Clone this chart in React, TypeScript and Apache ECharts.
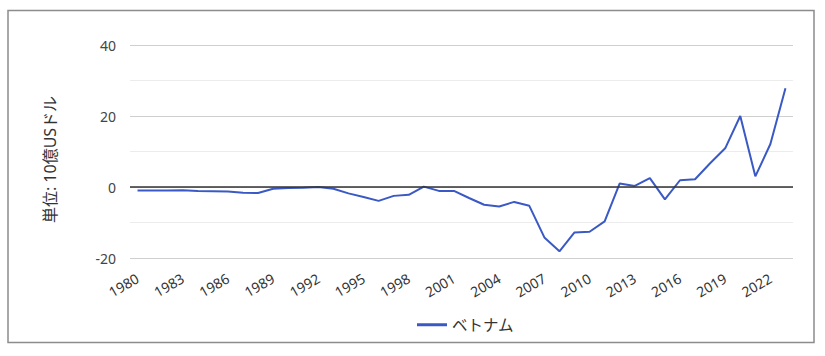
import React, { useEffect, useRef } from "react";
import * as echarts from "echarts";

const years: string[] = [];
for (let y = 1980; y <= 2023; y++) years.push(String(y));

const vietnam: number[] = [
  -1.0, -1.0, -1.0, -0.9, -1.1, -1.2, -1.3, -1.6, -1.7, -0.5,
  -0.3, -0.2, 0.0, -0.5, -1.8, -2.8, -3.9, -2.5, -2.2, 0.1,
  -1.1, -1.1, -3.1, -5.0, -5.5, -4.2, -5.3, -14.2, -18.1, -12.8,
  -12.6, -9.7, 1.0, 0.3, 2.5, -3.5, 1.9, 2.2, 6.7, 10.9,
  20.0, 3.0, 12.1, 27.8,
];

const seriesName = "ベトナム";
const yAxisName = "単位: 10億USドル";
const FONT = "'Noto Sans', 'Noto Sans CJK JP', sans-serif";

export default function App() {
  const ref = useRef<HTMLDivElement>(null);
  useEffect(() => {
    if (!ref.current) return;
    const chart = echarts.init(ref.current, undefined, { renderer: "svg" });
    chart.setOption({
      animation: false,
      backgroundColor: "#ffffff",
      textStyle: { fontFamily: FONT },
      graphic: [
        {
          type: "rect",
          shape: { x: 8, y: 10.5, width: 806, height: 332 },
          style: { fill: "none", stroke: "#8c8c8c", lineWidth: 1.5 },
          silent: true,
        },
      ],
      grid: { left: 130, right: 32, top: 45, bottom: 98 },
      legend: {
        left: 412,
        top: 312,
        icon: "rect",
        itemWidth: 30,
        itemHeight: 3,
        itemGap: 8,
        textStyle: { fontSize: 15.5, color: "#333", fontFamily: FONT },
        data: [seriesName],
      },
      xAxis: {
        type: "category",
        data: years,
        boundaryGap: true,
        axisLine: { show: false, onZero: false },
        axisTick: { show: false },
        axisLabel: {
          interval: 2,
          rotate: 30,
          color: "#333",
          fontSize: 14,
          margin: 19,
          fontFamily: FONT,
        },
        splitLine: { show: false },
      },
      yAxis: {
        type: "value",
        min: -20,
        max: 40,
        interval: 20,
        name: yAxisName,
        nameLocation: "middle",
        nameGap: 72,
        nameTextStyle: {
          fontSize: 16,
          color: "#333",
          fontFamily: FONT,
          padding: [0, 16, 0, 0],
        },
        axisLine: { show: false },
        axisTick: { show: false },
        axisLabel: { color: "#444", fontSize: 14, margin: 14, fontFamily: FONT },
        splitLine: { show: true, lineStyle: { color: "#cfcfcf", width: 1 } },
        minorTick: { show: false, splitNumber: 2 },
        minorSplitLine: { show: true, lineStyle: { color: "#ececec", width: 1 } },
      },
      series: [
        {
          name: seriesName,
          type: "line",
          data: vietnam,
          symbol: "none",
          showSymbol: false,
          lineStyle: { color: "#3a59c4", width: 2 },
          itemStyle: { color: "#3a59c4" },
          markLine: {
            silent: true,
            symbol: "none",
            label: { show: false },
            lineStyle: { color: "#333", width: 1.5, type: "solid" },
            data: [{ yAxis: 0 }],
          },
        },
      ],
    });
    return () => chart.dispose();
  }, []);
  return (
    <div
      ref={ref}
      style={{ position: "absolute", left: 0, top: 0, width: 825, height: 356 }}
    />
  );
}
